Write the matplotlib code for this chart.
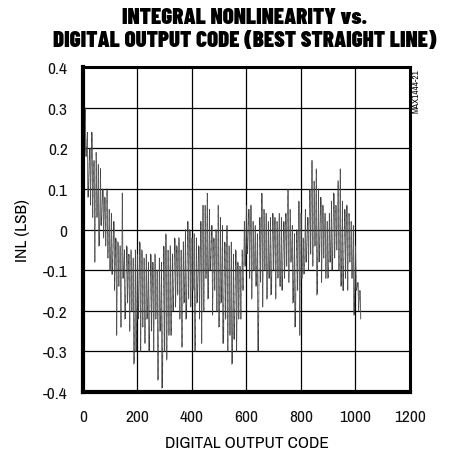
import numpy as np
import matplotlib.pyplot as plt

# INL: upper / lower edge of the trace every 8 codes
codes_hi = np.arange(0, 1024, 8)
inl_hi = [0.34, 0.30, 0.24, 0.20, 0.24, 0.17, 0.19, 0.16,
          0.15, 0.10, 0.08, 0.10, 0.05, 0.04, 0.02, -0.02,
          -0.03, -0.04, 0.09, -0.05, -0.04, -0.06, -0.05, -0.07,
          -0.05, -0.06, -0.03, -0.05, -0.07, -0.06, -0.08, -0.06,
          -0.08, -0.06, -0.10, -0.07, -0.08, -0.04, -0.01, -0.05,
          -0.04, -0.06, -0.02, -0.04, -0.02, -0.05, -0.03, 0.00,
          0.02, 0.00, -0.02, -0.01, -0.02, -0.04, 0.02, 0.06,
          0.06, 0.09, 0.05, 0.01, -0.02, 0.00, 0.06, 0.03,
          0.01, -0.03, 0.01, -0.04, -0.03, -0.06, -0.05, -0.08,
          -0.09, -0.05, 0.02, 0.06, 0.05, 0.06, 0.02, 0.01,
          -0.01, 0.03, 0.09, 0.05, 0.04, 0.02, 0.03, 0.04,
          0.03, 0.02, 0.04, 0.03, 0.02, 0.04, 0.10, 0.05,
          0.01, -0.01, 0.00, 0.07, 0.04, -0.02, 0.05, 0.03,
          0.10, 0.17, 0.12, 0.15, 0.10, 0.08, 0.06, 0.04,
          0.02, 0.04, 0.07, 0.09, 0.06, 0.12, 0.15, 0.07,
          0.05, 0.06, 0.04, 0.02, 0.01, -0.04, -0.13, -0.15]
inl_lo = [0.22, 0.18, 0.08, 0.06, 0.03, -0.08, 0.03, -0.04,
          0.01, -0.02, -0.04, -0.07, -0.10, -0.11, -0.15, -0.26,
          -0.14, -0.24, -0.12, -0.22, -0.18, -0.25, -0.20, -0.33,
          -0.30, -0.22, -0.30, -0.24, -0.28, -0.22, -0.30, -0.25,
          -0.30, -0.22, -0.37, -0.25, -0.39, -0.30, -0.32, -0.26,
          -0.26, -0.20, -0.19, -0.16, -0.22, -0.29, -0.18, -0.22,
          -0.17, -0.19, -0.15, -0.30, -0.18, -0.22, -0.28, -0.20,
          -0.12, -0.17, -0.10, -0.21, -0.15, -0.20, -0.24, -0.18,
          -0.28, -0.22, -0.30, -0.26, -0.33, -0.27, -0.30, -0.22,
          -0.22, -0.15, -0.09, -0.06, -0.12, -0.17, -0.10, -0.14,
          -0.30, -0.13, -0.19, -0.10, -0.17, -0.12, -0.16, -0.10,
          -0.17, -0.12, -0.14, -0.15, -0.12, -0.09, -0.13, -0.08,
          -0.18, -0.24, -0.15, -0.26, -0.12, -0.11, -0.08, -0.10,
          -0.06, -0.09, -0.04, -0.16, -0.08, -0.13, -0.07, -0.12,
          -0.12, -0.08, -0.10, -0.07, -0.05, -0.10, -0.14, -0.15,
          -0.12, -0.15, -0.08, -0.12, -0.21, -0.15, -0.20, -0.22]

xticks = [0, 200, 400, 600, 800, 1000, 1200]
yticks = [-0.4, -0.3, -0.2, -0.1, 0, 0.1, 0.2, 0.3, 0.4]
ytick_labels = ['-0.4', '-0.3', '-0.2', '-0.1', '0', '0.1', '0.2', '0.3', '0.4']

plt.rcParams['font.family'] = ['Archivo Narrow', 'Liberation Sans', 'DejaVu Sans']

# zigzag trace: top edge then bottom edge, 4 codes apart
trace_x = np.empty(2 * len(codes_hi))
trace_y = np.empty(2 * len(codes_hi))
trace_x[0::2] = codes_hi
trace_x[1::2] = codes_hi + 4
trace_y[0::2] = inl_hi
trace_y[1::2] = inl_lo

fig = plt.figure(figsize=(4.51, 4.56), dpi=100)
ax = fig.add_axes([0.184, 0.138, 0.725, 0.713])

ax.plot(trace_x, trace_y, color='#3a3a3a', lw=0.55, ls=(0, (1, 0.5)))
ax.vlines(codes_hi, inl_lo, inl_hi, color='#4a4a4a', lw=0.45)

ax.set_xlim(0, 1200)
ax.set_ylim(-0.4, 0.4)
ax.set_xticks(xticks)
ax.set_yticks(yticks)
ax.set_yticklabels(ytick_labels)
ax.grid(True, color='black', lw=0.9)
ax.tick_params(length=0, labelsize=12.5, colors='#111111')
ax.tick_params(axis='y', pad=11)
ax.tick_params(axis='x', pad=12)
ax.spines['left'].set_linewidth(3)
ax.spines['bottom'].set_linewidth(3)
ax.spines['top'].set_linewidth(2.2)
ax.spines['right'].set_linewidth(2.2)

ax.set_xlabel('DIGITAL OUTPUT CODE', fontsize=12.5, labelpad=8)
ax.set_ylabel('INL (LSB)', fontsize=12.5, labelpad=9)

fig.text(0.543, 0.982, 'INTEGRAL NONLINEARITY vs.\nDIGITAL OUTPUT CODE (BEST STRAIGHT LINE)',
         ha='center', va='top', fontsize=16.5, fontweight=900, linespacing=1.2,
         family=['Barlow Condensed', 'DejaVu Sans'])
fig.text(0.912, 0.848, 'MAX1444-21', rotation=90, ha='left', va='top', fontsize=6.5)

fig.savefig('out.png', dpi=100)
